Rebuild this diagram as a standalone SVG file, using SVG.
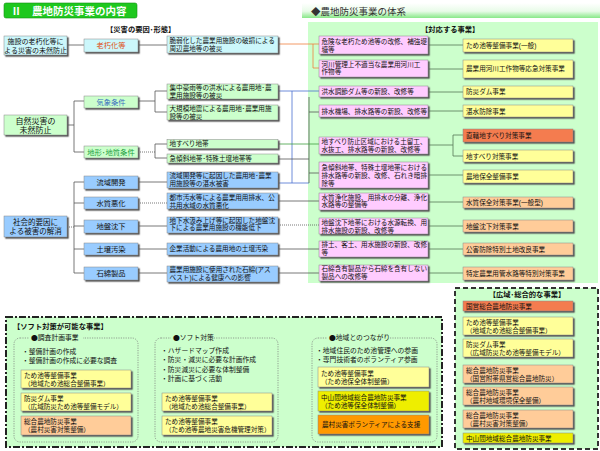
<svg xmlns="http://www.w3.org/2000/svg" width="600" height="451" viewBox="0 0 600 451">
<defs>
<linearGradient id="ban" x1="0" y1="0" x2="0" y2="1"><stop offset="0" stop-color="#ffffff"/><stop offset="0.55" stop-color="#e8fbe8"/><stop offset="1" stop-color="#88e888"/></linearGradient>
<filter id="sh" x="-5%" y="-10%" width="115%" height="140%"><feDropShadow dx="1.5" dy="1.5" stdDeviation="0.2" flood-color="#555" flood-opacity="1"/></filter>
<style>
text{font-family:'Liberation Sans','Noto Sans CJK JP',sans-serif;font-size:6.6px;fill:#111}
.c{text-anchor:middle}
.h{font-weight:bold;font-size:7.3px}
.m{font-size:6.8px}
.k{font-size:7.3px}
.j{font-family:'Noto Sans CJK JP',sans-serif}
.n rect{stroke:#888;stroke-width:0.5;filter:url(#sh)}
.cy{fill:#ccf7fb}.gr{fill:#ccffcc}.bl{fill:#99ccff}.pk{fill:#ffccff}.ye{fill:#ffff99}.or{fill:#f47c50}.pe{fill:#ffcc99}.by{fill:#eeee00}.og{fill:#ff9900}
.dot{fill:none;stroke:#777;stroke-width:0.7;stroke-dasharray:1.2,1.2}
</style>
</defs>
<rect width="600" height="451" fill="#fff"/>
<g id="title">
<rect x="4" y="3" width="133" height="15" rx="2" fill="#1ec81e" stroke="#139013" stroke-width="0.6"/>
<text x="11" y="14.5" style="font-size:10.5px;font-weight:bold;fill:#fff">Ⅱ　農地防災事業の内容</text>
</g>
<g id="banner">
<rect x="302" y="3" width="298" height="15" fill="url(#ban)"/>
<text x="311" y="14.5" style="font-size:9.5px;fill:#333">◆農地防災事業の体系</text>
</g>
<rect id="panel" x="308" y="22" width="290" height="261" fill="#ccffcc"/>
<text x="106" y="32" class="h">【災害の要因･形態】</text>
<text x="421" y="32" class="h">【対応する事業】</text>

<g id="connectors" fill="none" stroke="#555" stroke-width="0.8">
<path d="M67,45H84M138,45H167"/>
<path d="M67,125H74M74,101V152M74,101H84M74,152H84"/>
<path d="M138,101H155M155,91V112M155,91H167M155,112H167"/>
<path d="M138,152H155" stroke-dasharray="1,1"/>
<path d="M155,144V158M155,144H167M155,158H167"/>
<path d="M67,227H74" stroke-dasharray="1,1"/>
<path d="M74,182V273M74,182H84M74,203H84M74,226H84M74,249H84M74,273H84"/>
<path d="M138,182H167M138,226H167M138,249H167M138,273H167"/>
<path d="M138,203H167" stroke-dasharray="1,1"/>
<path d="M278,44H319M313,44V68H319" stroke="#f08040"/>
<path d="M278,91H319M292,91V183H278M292,183H309" stroke="#4a70d0"/>
<path d="M309,97V183M309,112H319M278,159H309M309,173H319"/>
<path d="M278,144H319" stroke="#40a040"/>
<path d="M278,201H319M278,249H319M278,273H319"/>
<path d="M278,225H319" stroke-dasharray="1,1"/>
<path d="M428,45H463M428,69H463M428,92H463M428,111H463M428,145H453M453,135V156M453,135H463M453,156H463M428,175H463M428,202H463M428,226H463M428,249H463M428,273H463" stroke="#557755"/>
</g>

<g id="n-shisetsu" class="n"><rect x="4" y="36" width="63" height="19" class="cy"/><text x="35.5" y="44" class="c" style="font-size:7px">施設の老朽化等に<tspan x="35.5" dy="8.5">よる災害の未然防止</tspan></text></g>
<g id="n-shizen" class="n"><rect x="4" y="115" width="63" height="20" class="gr"/><text x="35.5" y="123.5" class="c" style="font-size:8px">自然災害の<tspan x="35.5" dy="9.1">未然防止</tspan></text></g>
<g id="n-shakai" class="n"><rect x="4" y="216" width="63" height="21" class="bl"/><text x="35.5" y="225" class="c" style="font-size:7.5px">社会的要因に<tspan x="35.5" dy="9">よる被害の解消</tspan></text></g>

<g id="n-roukyu" class="n"><rect x="84" y="39" width="54" height="13" class="cy"/><text x="111" y="48.3" class="c k" style="fill:#e05020">老朽化等</text></g>
<g id="n-kishou" class="n"><rect x="84" y="96" width="54" height="12" class="gr"/><text x="111" y="104.8" class="c k" style="fill:#3a70c0">気象条件</text></g>
<g id="n-chikei" class="n"><rect x="84" y="146" width="54" height="12" class="gr"/><text x="111" y="154.8" class="c k" style="fill:#20a040">地形･地質条件</text></g>
<g id="n-ryuiki" class="n"><rect x="84" y="176" width="54" height="13" class="bl"/><text x="111" y="185.3" class="c k">流域開発</text></g>
<g id="n-suishitsu" class="n"><rect x="84" y="197" width="54" height="12" class="bl"/><text x="111" y="205.8" class="c k">水質悪化</text></g>
<g id="n-jiban" class="n"><rect x="84" y="220" width="54" height="13" class="bl"/><text x="111" y="229.3" class="c k">地盤沈下</text></g>
<g id="n-dojou" class="n"><rect x="84" y="243" width="54" height="12" class="bl"/><text x="111" y="251.8" class="c k">土壌汚染</text></g>
<g id="n-sekimen" class="n"><rect x="84" y="267" width="54" height="13" class="bl"/><text x="111" y="276.3" class="c k">石綿製品</text></g>

<g id="c1" class="n"><rect x="167" y="36" width="111" height="17" class="cy"/><text x="169.5" y="43">脆弱化した農業用施設の破損による<tspan x="169.5" dy="7.6">周辺農地等の被災</tspan></text></g>
<g id="c2" class="n"><rect x="167" y="84" width="111" height="15" class="gr"/><text x="169.5" y="90.2">集中豪雨等の洪水による農用地･農<tspan x="169.5" dy="7.5">業用施設等の被災</tspan></text></g>
<g id="c3" class="n"><rect x="167" y="105" width="111" height="15" class="gr"/><text x="169.5" y="111.3">大規模地震による農用地･農業用施<tspan x="169.5" dy="7.5">設等の被災</tspan></text></g>
<g id="c4" class="n"><rect x="167" y="139.5" width="111" height="9" class="gr"/><text x="169.5" y="146">地すべり地帯</text></g>
<g id="c5" class="n"><rect x="167" y="154" width="111" height="9" class="gr"/><text x="169.5" y="160.6">急傾斜地帯･特殊土壌地帯等</text></g>
<g id="c6" class="n"><rect x="167" y="172" width="111" height="16" class="bl"/><text x="169.5" y="178.2">流域開発等に起因した農用地･農業<tspan x="169.5" dy="7.5">用施設等の湛水被害</tspan></text></g>
<g id="c7" class="n"><rect x="167" y="193" width="111" height="16" class="bl"/><text x="169.5" y="200.4">都市汚水等による農業用用排水、公<tspan x="169.5" dy="7.5">共用水域の水質悪化</tspan></text></g>
<g id="c8" class="n"><rect x="167" y="217" width="111" height="16" class="bl"/><text x="169.5" y="222.6">地下水汲み上げ等に起因した地盤沈<tspan x="169.5" dy="7.5">下による農業用施設の機能低下</tspan></text></g>
<g id="c9" class="n"><rect x="167" y="243" width="111" height="12" class="bl"/><text x="169.5" y="251.3">企業活動による農用地の土壌汚染</text></g>
<g id="c10" class="n"><rect x="167" y="266" width="111" height="16" class="bl"/><text x="169.5" y="272.2">農業用施設に使用された石綿(アス<tspan x="169.5" dy="7.5">ベスト)による健康への影響</tspan></text></g>

<g id="p1" class="n"><rect x="319" y="36" width="109" height="18" class="pk"/><text x="321.5" y="44.2">危険な老朽ため池等の改修、補強堤<tspan x="321.5" dy="7.5">塘等</tspan></text></g>
<g id="p2" class="n"><rect x="319" y="60" width="109" height="17" class="pk"/><text x="321.5" y="66.8">河川管理上不適当な農業用河川工<tspan x="321.5" dy="7.6">作物等</tspan></text></g>
<g id="p3" class="n"><rect x="319" y="86" width="109" height="11" class="pk"/><text x="321.5" y="94">洪水調節ダム等の新設、改修等</text></g>
<g id="p4" class="n"><rect x="319" y="105" width="109" height="12" class="pk"/><text x="321.5" y="114.3">排水機場、排水路等の新設、改修等</text></g>
<g id="p5" class="n"><rect x="319" y="137" width="109" height="17" class="pk"/><text x="321.5" y="144.3">地すべり防止区域における土留工、<tspan x="321.5" dy="7.5">水抜工、排水路等の新設、改修等</tspan></text></g>
<g id="p6" class="n"><rect x="319" y="162" width="109" height="26" class="pk"/><text x="321.5" y="170.3">急傾斜地帯、特殊土壌地帯における<tspan x="321.5" dy="7.7">排水路等の新設、改修、石れき暗排</tspan><tspan x="321.5" dy="7.7">除等</tspan></text></g>
<g id="p7" class="n"><rect x="319" y="193" width="109" height="17" class="pk"/><text x="321.5" y="199.8">水質浄化施設、用排水の分離、浄化<tspan x="321.5" dy="7.5">水路等の整備等</tspan></text></g>
<g id="p8" class="n"><rect x="319" y="218" width="109" height="16" class="pk"/><text x="321.5" y="225">地盤沈下地帯における水源転換、用<tspan x="321.5" dy="7.5">排水施設の新設、改修等</tspan></text></g>
<g id="p9" class="n"><rect x="319" y="241" width="109" height="16" class="pk"/><text x="321.5" y="247">排土、客土、用水施設の新設、改修<tspan x="321.5" dy="7.5">等</tspan></text></g>
<g id="p10" class="n"><rect x="319" y="265" width="109" height="16" class="pk"/><text x="321.5" y="271.2">石綿含有製品から石綿を含有しない<tspan x="321.5" dy="7.5">製品への改修等</tspan></text></g>

<g id="y1" class="n"><rect x="463" y="39" width="110" height="13" class="ye"/><text x="466" y="48">ため池等整備事業(一般)</text></g>
<g id="y2" class="n"><rect x="463" y="60" width="110" height="18" class="ye"/><text x="466" y="71.3">農業用河川工作物等応急対策事業</text></g>
<g id="y3" class="n"><rect x="463" y="86" width="110" height="12" class="ye"/><text x="466" y="94.3">防災ダム事業</text></g>
<g id="y4" class="n"><rect x="463" y="105" width="110" height="12" class="ye"/><text x="466" y="113.5">湛水防除事業</text></g>
<g id="y5" class="n"><rect x="463" y="129" width="110" height="13" class="or"/><text x="466" y="137.8">直轄地すべり対策事業</text></g>
<g id="y6" class="n"><rect x="463" y="150" width="110" height="12" class="ye"/><text x="466" y="158.5">地すべり対策事業</text></g>
<g id="y7" class="n"><rect x="463" y="170" width="110" height="13" class="ye"/><text x="466" y="178.8">農地保全整備事業</text></g>
<g id="y8" class="n"><rect x="463" y="197" width="110" height="11" class="pe"/><text x="466" y="204.8">水質保全対策事業(一般型)</text></g>
<g id="y9" class="n"><rect x="463" y="220" width="110" height="12" class="pe"/><text x="466" y="228.5">地盤沈下対策事業</text></g>
<g id="y10" class="n"><rect x="463" y="243" width="110" height="12" class="pe"/><text x="466" y="251.5">公害防除特別土地改良事業</text></g>
<g id="y11" class="n"><rect x="463" y="267" width="110" height="13" class="pe"/><text x="466" y="275.8">特定農業用管水路等特別対策事業</text></g>

<g id="soft">
<rect x="6" y="317" width="436" height="130" fill="#ccffcc" stroke="#222" stroke-width="2" stroke-dasharray="7,2,2,2"/>
<text x="13" y="328.5" class="h">【ソフト対策が可能な事業】</text>
<rect x="14" y="338" width="124" height="104" rx="6" class="dot"/>
<rect x="155" y="338" width="123" height="104" rx="6" class="dot"/>
<rect x="312" y="338" width="125" height="104" rx="6" class="dot"/>
<rect x="29" y="334" width="54" height="8" fill="#ccffcc"/><text x="31" y="340.3" class="m"><tspan class="j">●</tspan>調査計画事業</text>
<rect x="171" y="334" width="40" height="8" fill="#ccffcc"/><text x="173" y="340.3" class="m"><tspan class="j">●</tspan>ソフト対策</text>
<rect x="327" y="334" width="63" height="8" fill="#ccffcc"/><text x="329" y="340.3" class="m"><tspan class="j">●</tspan>地域とのつながり</text>
<text x="22" y="353.5" class="m">・整備計画の作成<tspan x="22" dy="9">・整備計画の作成に必要な調査</tspan></text>
<text x="161" y="352.5" class="m">・ハザードマップ作成<tspan x="161" dy="9.7">・防災・減災に必要な計画作成</tspan><tspan x="161" dy="9.4">・防災減災に必要な体制整備</tspan><tspan x="161" dy="9.7">・計画に基づく活動</tspan></text>
<text x="316" y="353.3" class="m">・地域住民のため池管理への参画<tspan x="316" dy="8.2">・専門技術者のボランティア参画</tspan></text>
</g>
<g id="s1" class="n"><rect x="21" y="370" width="110" height="18" class="ye"/><text x="24" y="377.5">ため池等整備事業<tspan x="24" dy="8">（地域ため池総合整備事業）</tspan></text></g>
<g id="s2" class="n"><rect x="21" y="393" width="110" height="18" class="ye"/><text x="24" y="400.5">防災ダム事業<tspan x="24" dy="8">（広域防災ため池等整備モデル）</tspan></text></g>
<g id="s3" class="n"><rect x="21" y="416" width="110" height="19" class="pe"/><text x="24" y="424">総合農地防災事業<tspan x="24" dy="8">（農村災害対策整備）</tspan></text></g>
<g id="s4" class="n"><rect x="162" y="393" width="110" height="18" class="ye"/><text x="165" y="400.5">ため池等整備事業<tspan x="165" dy="8">（地域ため池総合整備事業）</tspan></text></g>
<g id="s5" class="n"><rect x="162" y="416" width="110" height="19" class="ye"/><text x="165" y="424">ため池等整備事業<tspan x="165" dy="8">（ため池等農地災害危機管理対策）</tspan></text></g>
<g id="s6" class="n"><rect x="318" y="367" width="111" height="20" class="ye"/><text x="321" y="375.5">ため池等整備事業<tspan x="321" dy="8.3">（ため池保全体制整備）</tspan></text></g>
<g id="s7" class="n"><rect x="318" y="391" width="111" height="20" class="by"/><text x="321" y="399.5">中山間地域総合農地防災事業<tspan x="321" dy="8.3">（ため池等保全体制整備）</tspan></text></g>
<g id="s8" class="n"><rect x="318" y="415" width="111" height="19" class="og"/><text x="322" y="427">農村災害ボランティアによる支援</text></g>

<g id="wide">
<rect x="455" y="288" width="143" height="161" fill="#ccffcc" stroke="#333" stroke-width="2" stroke-dasharray="5,3"/>
<text x="527" y="297" class="h c">【広域･総合的な事業】</text>
</g>
<g id="w1" class="n"><rect x="463" y="301" width="110" height="10" class="or"/><text x="466" y="308.5">国営総合農地防災事業</text></g>
<g id="w2" class="n"><rect x="463" y="317" width="110" height="18" class="ye"/><text x="466" y="324.5">ため池等整備事業<tspan x="466" dy="8">（地域ため池総合整備事業）</tspan></text></g>
<g id="w3" class="n"><rect x="463" y="339" width="110" height="18" class="ye"/><text x="466" y="346.5">防災ダム事業<tspan x="466" dy="8">（広域防災ため池等整備モデル）</tspan></text></g>
<g id="w4" class="n"><rect x="463" y="365" width="110" height="18" class="pe"/><text x="466" y="372.5">総合農地防災事業<tspan x="466" dy="8">（国営附帯県営総合農地防災）</tspan></text></g>
<g id="w5" class="n"><rect x="463" y="387" width="110" height="18" class="pe"/><text x="466" y="394.5">総合農地防災事業<tspan x="466" dy="8">（農村地域環境保全整備）</tspan></text></g>
<g id="w6" class="n"><rect x="463" y="410" width="110" height="18" class="pe"/><text x="466" y="417.5">総合農地防災事業<tspan x="466" dy="8">（農村災害対策整備）</tspan></text></g>
<g id="w7" class="n"><rect x="463" y="433" width="110" height="10" class="by"/><text x="466" y="440.5">中山間地域総合農地防災事業</text></g>
</svg>
